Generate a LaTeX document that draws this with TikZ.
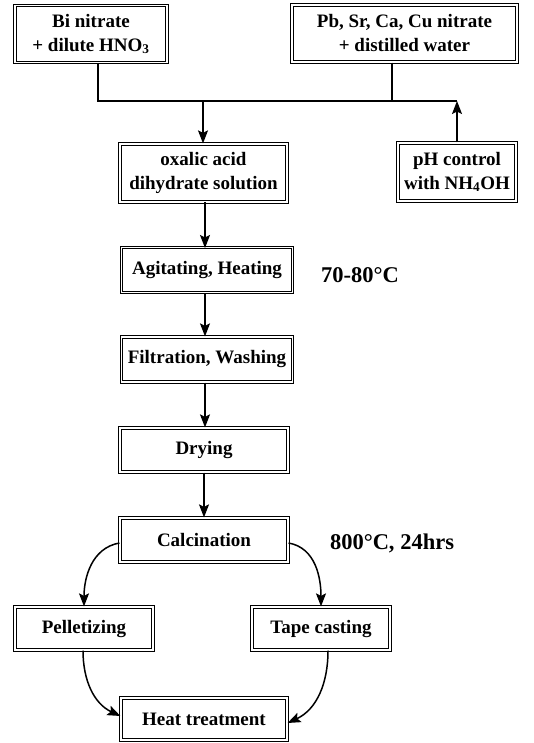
\documentclass[tikz,border=0pt]{standalone}
\usepackage{fontspec}
\setmainfont{Liberation Serif}
\usetikzlibrary{arrows.meta}
\begin{document}
\begin{tikzpicture}[x=1pt,y=-1pt,
  box/.style={draw, double, line width=1.2pt, double distance=1.1pt, align=center,
    font=\fontsize{19}{24}\selectfont\bfseries, inner sep=0pt},
  lbl/.style={font=\fontsize{22.5}{26}\selectfont\bfseries},
  conn/.style={line width=1.5pt},
  arr/.style={line width=1.5pt, -{Stealth[length=13pt,width=10pt,inset=2.5pt]}}]
\useasboundingbox (0,0) rectangle (533,743);
\node[box, minimum width=152pt, minimum height=57pt] (bi) at (91,34) {Bi nitrate\\+ dilute HNO$_{\mathbf 3}$};
\node[box, minimum width=225pt, minimum height=57pt] (pb) at (404.5,33.5) {Pb, Sr, Ca, Cu nitrate\\+ distilled water};
\node[box, minimum width=167pt, minimum height=58pt] (ox) at (203.5,173) {oxalic acid\\dihydrate solution};
\node[box, minimum width=118pt, minimum height=58pt] (ph) at (457,172) {pH control\\with NH$_{\mathbf 4}$OH};
\node[box, minimum width=171pt, minimum height=45pt] (ag) at (207,270) {Agitating, Heating};
\node[box, minimum width=171pt, minimum height=45pt] (fi) at (207,359.5) {Filtration, Washing};
\node[box, minimum width=168pt, minimum height=44pt] (dr) at (204,450) {Drying};
\node[box, minimum width=168pt, minimum height=44pt] (ca) at (204,540) {Calcination};
\node[box, minimum width=138pt, minimum height=43pt] (pe) at (84,628.5) {Pelletizing};
\node[box, minimum width=138pt, minimum height=43pt] (tc) at (321,628.5) {Tape casting};
\node[box, minimum width=166pt, minimum height=42pt] (ht) at (204,719) {Heat treatment};
\node[lbl] (t1) at (360,275) {70-80°C};
\node[lbl] (t2) at (392,543) {800°C, 24hrs};
\coordinate (j1) at (98,101);
\coordinate (j2) at (392,101);
\coordinate (j3) at (203,101);
\draw[conn] (bi.south -| j1) -- (j1) -- (ph.north |- j1);
\draw[conn] (pb.south -| j2) -- (j2);
\draw[arr] (ph.north) -- (ph.north |- j1);
\draw[arr] (j3) -- (j3 |- ox.north);
\draw[arr] (205,202) -- (205,248);
\draw[arr] (ag.south -| 205,0) -- (fi.north -| 205,0);
\draw[arr] (fi.south -| 205,0) -- (dr.north -| 205,0);
\draw[arr] (dr.south) -- (ca.north);
\draw[arr] ([yshift=-3pt]ca.west) to[out=190,in=90] (pe.north);
\draw[arr] ([yshift=-3pt]ca.east) to[out=-10,in=90] (tc.north);
\draw[arr] ([xshift=-1pt]pe.south) to[out=-90,in=155] ([yshift=3pt]ht.west);
\draw[arr] ([xshift=7pt]tc.south) to[out=-90,in=25] ([yshift=-4pt]ht.east);
\end{tikzpicture}
\end{document}
